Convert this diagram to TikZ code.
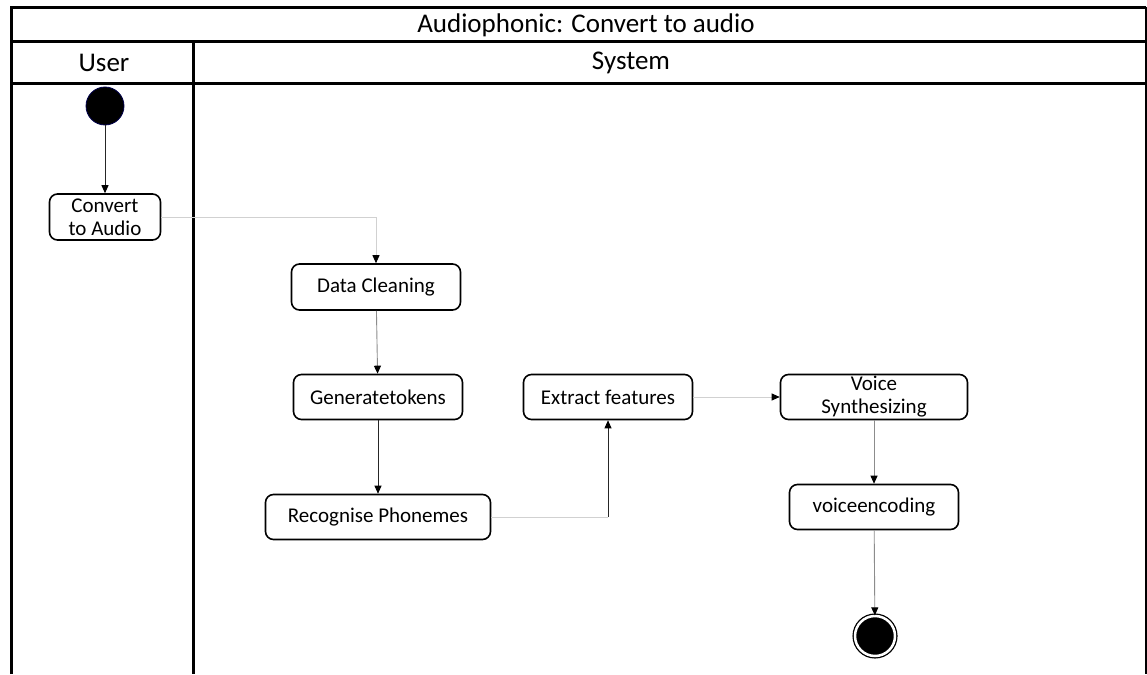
\documentclass[tikz,border=0pt]{standalone}
\usepackage{fontspec}
\setmainfont{Carlito}
\usetikzlibrary{arrows.meta}
\begin{document}
\begin{tikzpicture}[x=1pt,y=-1pt,
  lane/.style={line width=3pt,black},
  act/.style={draw=black,line width=1.6pt,rounded corners=8pt,fill=white,
    align=center,font=\fontsize{21}{23}\selectfont,inner sep=0pt},
  hdr/.style={font=\fontsize{27}{30}\selectfont},
  flow/.style={line width=0.9pt,-{Triangle[length=8pt,width=7pt,color=black]}},
  dark/.style={flow,draw=black!85},
  mid/.style={flow,draw=black!45},
  light/.style={flow,draw=black!18}]
\useasboundingbox (0,0) rectangle (1147,674);
\fill[white] (0,0) rectangle (1147,674);

% swimlane frame
\draw[lane] (11,674) -- (11,8) -- (1146,8);
\draw[line width=1.5pt] (1146,7) -- (1146,674);
\draw[lane] (11,42) -- (1146,42);
\draw[lane] (11,84) -- (1146,84);
\draw[lane] (193,42) -- (193,674);

\node[hdr] (title) at (586,25) {Audiophonic: Convert to audio};
\node[hdr] (user) at (104,63) {User};
\node[hdr] (system) at (631,63) {System};

% activity nodes
\node[circle,fill=black,draw=black!70!blue,line width=0.8pt,minimum size=38pt,inner sep=0pt] (start) at (105,106) {};
\node[act,minimum width=111pt,minimum height=46pt] (conv) at (105,217) {Convert\\to Audio};
\node[act,minimum width=169pt,minimum height=46pt] (clean) at (376,287) {Data Cleaning};
\node[act,minimum width=169pt,minimum height=45pt] (tok) at (378,397) {Generatetokens};
\node[act,minimum width=225pt,minimum height=45pt] (phon) at (378,517) {Recognise Phonemes};
\node[act,minimum width=169pt,minimum height=45pt] (feat) at (608,397) {Extract features};
\node[act,minimum width=187pt,minimum height=45pt] (synth) at (874,397) {Voice\\Synthesizing};
\node[act,minimum width=169pt,minimum height=45pt] (enc) at (874,507) {voiceencoding};
\node[circle,fill=black,draw=black,line width=1.3pt,double=white,double distance=2.5pt,minimum size=40pt,inner sep=0pt] (end) at (875,636) {};

% control flow
\draw[dark] (start) -- (conv);
\draw[light] (conv.east) -| (clean.north);
\draw[mid] (clean) -- (tok);
\draw[dark] (tok) -- (phon);
\draw[light,-] (phon.east) -- (608,517) coordinate (bend);
\draw[dark] (bend) -- (feat.south);
\draw[light] (feat) -- (synth);
\draw[mid] (synth) -- (enc);
\draw[mid] (enc) -- (end);
\end{tikzpicture}
\end{document}
